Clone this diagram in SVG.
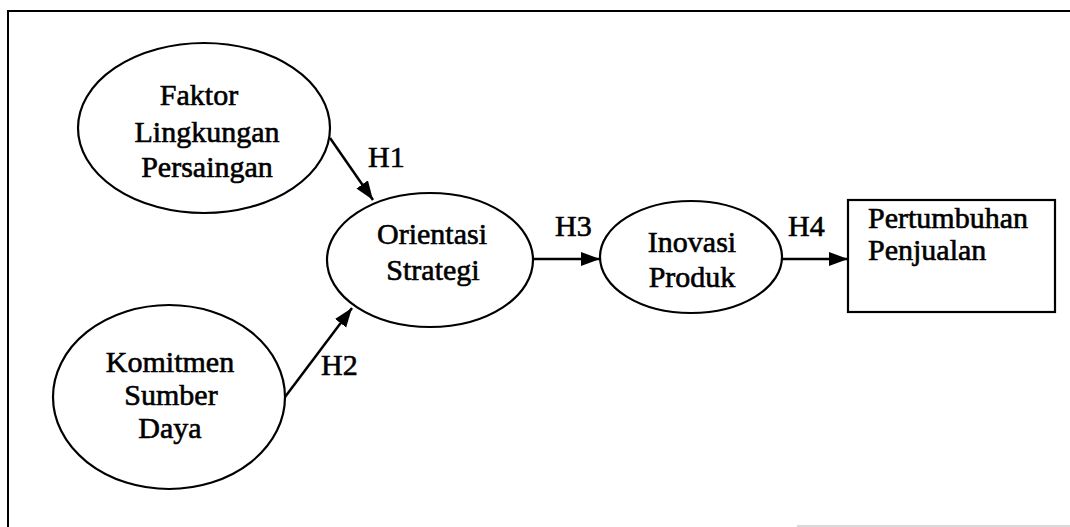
<svg xmlns="http://www.w3.org/2000/svg" width="1070" height="527" viewBox="0 0 1070 527">
  <style>
    .node { fill: #ffffff; stroke: #000000; stroke-width: 2.2; }
    .label { font-family: "Liberation Serif", "Times New Roman", serif; font-size: 30px; fill: #000000; stroke: #000000; stroke-width: 0.6; }
    .c { text-anchor: middle; }
    .edge { stroke: #000000; stroke-width: 2.5; fill: none; marker-end: url(#arrow); }
    .frame { stroke: #000000; stroke-width: 2; fill: none; }
  </style>
  <defs>
    <marker id="arrow" markerUnits="userSpaceOnUse" markerWidth="22" markerHeight="16" refX="19" refY="7" orient="auto">
      <path d="M0,0 L19,7 L0,14 Z" fill="#000000"/>
    </marker>
  </defs>

  <rect width="1070" height="527" fill="#ffffff"/>

  <!-- outer frame -->
  <g id="frame">
    <path class="frame" d="M8,527 L8,11 L1070,11"/>
    <line x1="797" y1="526" x2="1070" y2="526" stroke="#cccccc" stroke-width="1.5"/>
  </g>

  <!-- connectors -->
  <g id="connectors">
    <line class="edge" x1="330" y1="138" x2="373" y2="200"/>
    <line class="edge" x1="285" y1="397" x2="352" y2="308"/>
    <line class="edge" x1="533" y1="259" x2="600" y2="259"/>
    <line class="edge" x1="782" y1="259" x2="848" y2="259"/>
    <text class="label" x="368" y="167">H1</text>
    <text class="label" x="321" y="375">H2</text>
    <text class="label" x="555" y="236">H3</text>
    <text class="label" x="788" y="236">H4</text>
  </g>

  <g id="faktor-lingkungan">
    <ellipse class="node" cx="204" cy="128" rx="126" ry="85"/>
    <text class="label c" x="199" y="105">Faktor</text>
    <text class="label c" x="207" y="142">Lingkungan</text>
    <text class="label c" x="207" y="177">Persaingan</text>
  </g>

  <g id="komitmen-sumber-daya">
    <ellipse class="node" cx="169" cy="397" rx="116" ry="92"/>
    <text class="label c" x="170" y="372">Komitmen</text>
    <text class="label c" x="171" y="405">Sumber</text>
    <text class="label c" x="170" y="438">Daya</text>
  </g>

  <g id="orientasi-strategi">
    <ellipse class="node" cx="430" cy="260" rx="103" ry="67"/>
    <text class="label c" x="432" y="244">Orientasi</text>
    <text class="label c" x="433" y="280">Strategi</text>
  </g>

  <g id="inovasi-produk">
    <ellipse class="node" cx="691" cy="257" rx="91" ry="56"/>
    <text class="label c" x="692" y="252">Inovasi</text>
    <text class="label c" x="692" y="287">Produk</text>
  </g>

  <g id="pertumbuhan-penjualan">
    <rect class="node" x="848" y="200" width="207" height="112"/>
    <text class="label" x="868" y="228">Pertumbuhan</text>
    <text class="label" x="868" y="260">Penjualan</text>
  </g>
</svg>
